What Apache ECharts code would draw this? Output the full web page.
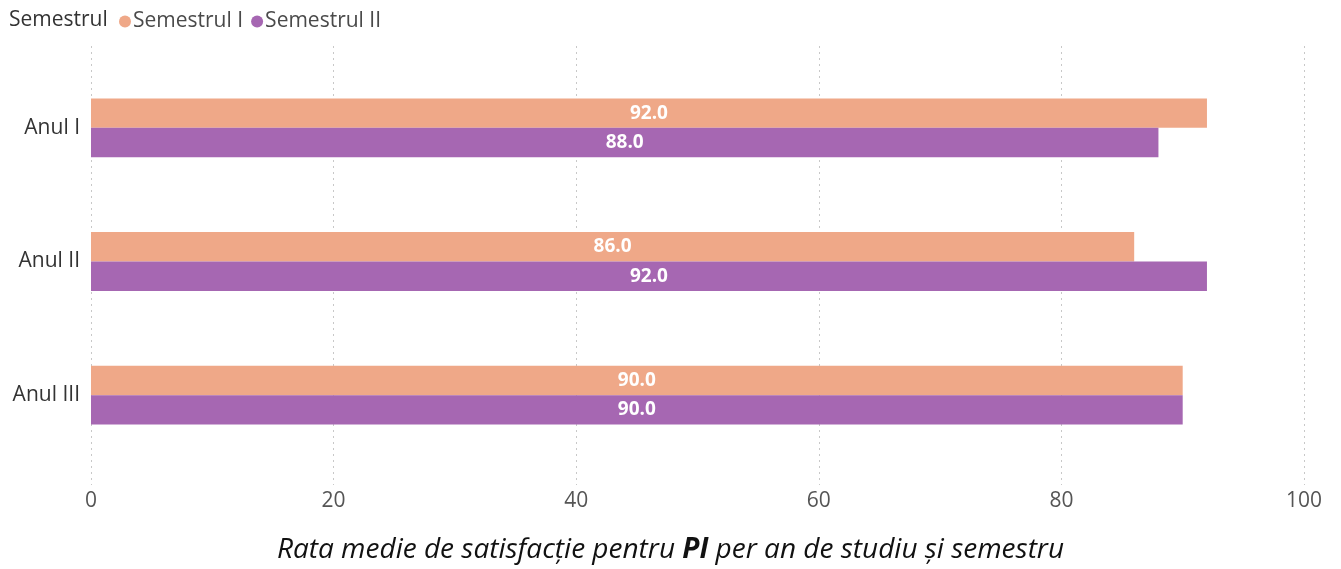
<!DOCTYPE html>
<html>
<head>
<meta charset="utf-8">
<script src="https://cdn.jsdelivr.net/npm/echarts@6/dist/echarts.min.js"></script>
<style>html,body{margin:0;padding:0;background:#fff;}#c{width:1341px;height:569px;}</style>
</head>
<body>
<div id="c"></div>
<script>
const categories = ['Anul I', 'Anul II', 'Anul III'];
const seriesNames = ['Semestrul I', 'Semestrul II'];
const sem1 = [92.0, 86.0, 90.0];
const sem2 = [88.0, 92.0, 90.0];

const FONT = '"Open Sans", "Noto Sans", sans-serif';
const chart = echarts.init(document.getElementById('c'));
const labelCfg = {
  show: true, position: 'inside', color: '#fff', fontWeight: 'bold',
  fontSize: 19, fontFamily: FONT, formatter: p => p.value.toFixed(1)
};
chart.setOption({
  animation: false,
  title: [
    { text: 'Semestrul', left: 4, top: 5, textStyle: { fontSize: 21, fontWeight: 'normal', color: '#333', fontFamily: FONT } },
    {
      text: '{a|Rata medie de satisfacție pentru }{b|PI}{a| per an de studiu și semestru}',
      left: 'center', top: 531,
      textStyle: { fontWeight: 'normal', rich: {
        a: { fontSize: 28, fontStyle: 'italic', fontWeight: 'normal', color: '#111', fontFamily: FONT },
        b: { fontSize: 28, fontStyle: 'italic', fontWeight: 'bold', color: '#111', fontFamily: FONT }
      } }
    }
  ],
  legend: {
    data: seriesNames, left: 114, top: 6, icon: 'circle', itemWidth: 12, itemHeight: 12, itemGap: 8,
    textStyle: { fontSize: 21, color: '#4a4a4a', fontFamily: FONT, padding: [0, 0, 0, -3] }
  },
  grid: [
    { left: 91, right: 37, top: 61, bottom: 107 },
    { left: 91, right: 37, top: 46, bottom: 84 }
  ],
  xAxis: [
    { gridIndex: 0, type: 'value', min: 0, max: 100, interval: 20, show: false, splitLine: { show: false } },
    { gridIndex: 1, type: 'value', min: 0, max: 100, interval: 20,
      axisLine: { show: false }, axisTick: { show: false },
      axisLabel: { fontSize: 21, color: '#555', fontFamily: FONT, margin: 6 },
      splitLine: { show: true, lineStyle: { type: [2, 4], color: '#c8c8c8', width: 1 } } }
  ],
  yAxis: [
    { gridIndex: 0, type: 'category', data: categories, inverse: true,
      axisLine: { show: false }, axisTick: { show: false },
      axisLabel: { fontSize: 21, color: '#333', fontFamily: FONT, margin: 11 } },
    { gridIndex: 1, type: 'value', show: false, min: 0, max: 1 }
  ],
  series: [
    { name: seriesNames[0], type: 'bar', xAxisIndex: 0, yAxisIndex: 0, data: sem1,
      itemStyle: { color: '#EFA888' }, barGap: '0%', barCategoryGap: '56%', label: labelCfg },
    { name: seriesNames[1], type: 'bar', xAxisIndex: 0, yAxisIndex: 0, data: sem2,
      itemStyle: { color: '#A667B2' }, barGap: '0%', barCategoryGap: '56%', label: labelCfg }
  ]
});
</script>
</body>
</html>
